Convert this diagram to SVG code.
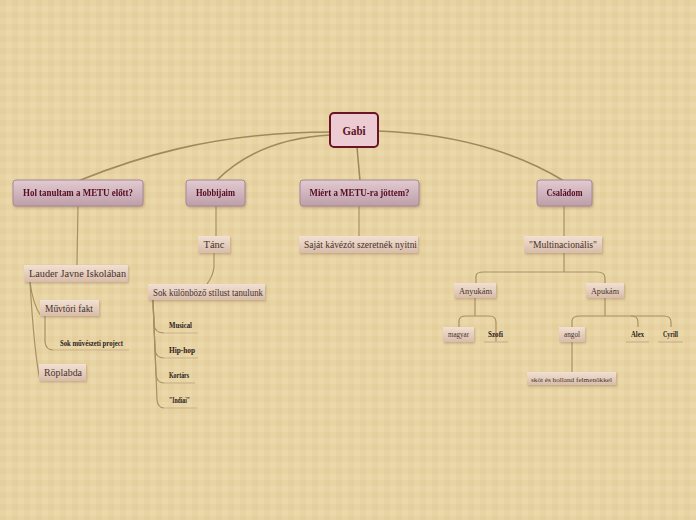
<svg xmlns="http://www.w3.org/2000/svg" width="696" height="520" viewBox="0 0 696 520">
<defs>
<pattern id="plaid" width="12" height="12" patternUnits="userSpaceOnUse">
<rect width="12" height="12" fill="#ebd8aa"/>
<rect x="0" y="0" width="6" height="12" fill="#d6bb85" opacity="0.18"/>
<rect x="0" y="0" width="12" height="6" fill="#d6bb85" opacity="0.18"/>
</pattern>
<linearGradient id="gMain" x1="0" y1="0" x2="0" y2="1">
<stop offset="0" stop-color="#e2cbd1"/>
<stop offset="1" stop-color="#bd9ea9"/>
</linearGradient>
<linearGradient id="gSub" x1="0" y1="0" x2="0" y2="1">
<stop offset="0" stop-color="#f2e0d2"/>
<stop offset="1" stop-color="#d9bca9"/>
</linearGradient>
<filter id="sh" x="-10%" y="-20%" width="130%" height="160%">
<feDropShadow dx="1" dy="1.5" stdDeviation="0.8" flood-color="#7a6040" flood-opacity="0.35"/>
</filter>
</defs>
<style>
.main rect{fill:url(#gMain);stroke:#a88893;stroke-width:1}
.main text{font-family:"Liberation Serif","DejaVu Serif",serif;font-weight:bold;font-size:9.5px;fill:#560c1f;text-anchor:middle}
.sub rect{fill:url(#gSub);stroke:none}
.sub text{font-family:"Liberation Serif","DejaVu Serif",serif;font-size:10px;fill:#45332f;text-anchor:middle}
.sub .ul,.leaf .ul{stroke:#c9b389;stroke-width:1.2;fill:none}
.leaf text{font-family:"Liberation Serif","DejaVu Serif",serif;font-weight:bold;font-size:8px;fill:#2a211d;text-anchor:middle}
.sm text{font-size:8px}
#connectors path{fill:none;stroke:#a89164;stroke-width:1.2}
#connectors .thick{stroke-width:1.6;stroke:#9f8a5c}
</style>
<rect width="696" height="520" fill="url(#plaid)"/>
<g id="connectors">
<path class="thick" d="M331,132 C210,132 130,160 78,181"/>
<path class="thick" d="M331,135 C270,138 235,162 216,181"/>
<path class="thick" d="M357,147 L360,181"/>
<path class="thick" d="M378,131 C470,134 530,160 564,181"/>
<path d="M78,206 L77,265"/>
<path d="M216,206 L216,236"/>
<path d="M359,206 L359,236"/>
<path d="M564,206 L564,236"/>
<path d="M214,253 L214,267 Q213,276 207,284"/>
<path d="M30,282 Q33,305 41,316"/>
<path d="M30,282 Q34,350 40,381"/>
<path d="M45,316 L45,342 Q46,350 53,350"/>
<path d="M153,300 L154,325 Q155,333 164,333"/>
<path d="M153,300 L155,350 Q156,358 164,358"/>
<path d="M153,300 L156,375 Q157,383 164,383"/>
<path d="M153,300 L157,400 Q158,408 164,408"/>
<path d="M564,253 L564,272"/>
<path d="M476,285 L476,276 Q476,272 484,272 L597,272 Q605,272 605,278 L605,285"/>
<path d="M475,298 L475,316"/>
<path d="M459,327 L459,321 Q459,316 466,316 L489,316 Q496,316 496,322 L496,342"/>
<path d="M605,298 L605,316"/>
<path d="M572,327 L572,321 Q572,316 580,316 L664,316 Q671,316 671,322 L671,327"/>
<path d="M631,316 Q638,316 638,322 L638,327"/>
<path d="M572,342 L572,372"/>
</g>
<g id="n-gabi">
<rect x="330" y="113" width="48" height="34" rx="4" fill="#eccbd3" stroke="#6a1428" stroke-width="2"/>
<text x="354" y="134.5" font-family="Liberation Serif, DejaVu Serif, serif" font-weight="bold" font-size="12" fill="#5a0f22" text-anchor="middle" textLength="23" lengthAdjust="spacingAndGlyphs">Gabi</text>
</g>
<g id="n-hol" class="main" filter="url(#sh)">
<rect x="13" y="180" width="130" height="26" rx="3"/>
<text x="78" y="196" textLength="110" lengthAdjust="spacingAndGlyphs">Hol tanultam a METU előtt?</text>
</g>
<g id="n-hobbi" class="main" filter="url(#sh)">
<rect x="186" y="180" width="59" height="26" rx="3"/>
<text x="215.5" y="196" textLength="39" lengthAdjust="spacingAndGlyphs">Hobbijaim</text>
</g>
<g id="n-miert" class="main" filter="url(#sh)">
<rect x="300" y="180" width="119" height="26" rx="3"/>
<text x="359.5" y="196" textLength="100" lengthAdjust="spacingAndGlyphs">Miért a METU-ra jöttem?</text>
</g>
<g id="n-csalad" class="main" filter="url(#sh)">
<rect x="537" y="180" width="55" height="26" rx="3"/>
<text x="564.5" y="196" textLength="36" lengthAdjust="spacingAndGlyphs">Családom</text>
</g>
<g id="n-tanc" class="sub">
<rect x="198" y="236" width="32" height="17" filter="url(#sh)"/>
<text x="214" y="248" textLength="21" lengthAdjust="spacingAndGlyphs">Tánc</text>
</g>
<g id="n-kavezo" class="sub">
<rect x="299" y="236" width="119" height="17" filter="url(#sh)"/>
<text x="360.5" y="248" textLength="113" lengthAdjust="spacingAndGlyphs">Saját kávézót szeretnék nyitni</text>
</g>
<g id="n-multi" class="sub">
<rect x="524" y="236" width="78" height="17" filter="url(#sh)"/>
<text x="563" y="248" textLength="68" lengthAdjust="spacingAndGlyphs">"Multinacionális"</text>
</g>
<g id="n-lauder" class="sub">
<rect x="24" y="265" width="104" height="17" filter="url(#sh)"/>
<text x="77.5" y="277" textLength="97" lengthAdjust="spacingAndGlyphs">Lauder Javne Iskolában</text>
</g>
<g id="n-muvtori" class="sub">
<rect x="40" y="300" width="59" height="16" filter="url(#sh)"/>
<text x="69" y="311.5" textLength="48" lengthAdjust="spacingAndGlyphs">Művtöri fakt</text>
</g>
<g id="n-project" class="leaf">
<text x="91.5" y="345.5" textLength="63" lengthAdjust="spacingAndGlyphs">Sok művészeti project</text>
<path class="ul" d="M53,350 L129,350"/>
</g>
<g id="n-roplabda" class="sub">
<rect x="39" y="364" width="47" height="17" filter="url(#sh)"/>
<text x="63" y="376" textLength="38" lengthAdjust="spacingAndGlyphs">Röplabda</text>
</g>
<g id="n-stilus" class="sub">
<rect x="148" y="284" width="117" height="16" filter="url(#sh)"/>
<text x="208" y="295.5" textLength="110" lengthAdjust="spacingAndGlyphs">Sok különböző stílust tanulunk</text>
</g>
<g id="n-musical" class="leaf">
<text x="180.5" y="327.5" textLength="23" lengthAdjust="spacingAndGlyphs">Musical</text>
<path class="ul" d="M164,333 L198,333"/>
</g>
<g id="n-hiphop" class="leaf">
<text x="182" y="352.5" textLength="26" lengthAdjust="spacingAndGlyphs">Hip-hop</text>
<path class="ul" d="M164,358 L198,358"/>
</g>
<g id="n-kortars" class="leaf">
<text x="179" y="377.5" textLength="20" lengthAdjust="spacingAndGlyphs">Kortárs</text>
<path class="ul" d="M164,383 L195,383"/>
</g>
<g id="n-indiai" class="leaf">
<text x="179.5" y="402.5" textLength="21" lengthAdjust="spacingAndGlyphs">"Indiai"</text>
<path class="ul" d="M164,408 L197,408"/>
</g>
<g id="n-anyu" class="sub sm">
<rect x="454" y="283" width="42" height="15" filter="url(#sh)"/>
<text x="475.5" y="293.5" textLength="33" lengthAdjust="spacingAndGlyphs">Anyukám</text>
</g>
<g id="n-apu" class="sub sm">
<rect x="586" y="283" width="38" height="15" filter="url(#sh)"/>
<text x="605" y="293.5" textLength="28" lengthAdjust="spacingAndGlyphs">Apukám</text>
</g>
<g id="n-magyar" class="sub sm">
<rect x="443" y="327" width="31" height="15" filter="url(#sh)"/>
<text x="458.5" y="337" textLength="21" lengthAdjust="spacingAndGlyphs">magyar</text>
</g>
<g id="n-szofi" class="leaf">
<text x="495.5" y="336.5" textLength="15" lengthAdjust="spacingAndGlyphs">Szofi</text>
<path class="ul" d="M484,342 L508,342"/>
</g>
<g id="n-angol" class="sub sm">
<rect x="559" y="327" width="26" height="15" filter="url(#sh)"/>
<text x="572" y="337" textLength="16" lengthAdjust="spacingAndGlyphs">angol</text>
</g>
<g id="n-alex" class="leaf">
<text x="637.5" y="336.5" textLength="13" lengthAdjust="spacingAndGlyphs">Alex</text>
<path class="ul" d="M626,342 L649,342"/>
</g>
<g id="n-cyrill" class="leaf">
<text x="670.5" y="336.5" textLength="15" lengthAdjust="spacingAndGlyphs">Cyrill</text>
<path class="ul" d="M658,342 L683,342"/>
</g>
<g id="n-skot" class="sub sm">
<rect x="527" y="372" width="89" height="13" filter="url(#sh)"/>
<text x="571.5" y="381.5" font-size="7" style="font-size:7px" textLength="81" lengthAdjust="spacingAndGlyphs">skót és holland felmenőkkel</text>
</g>
</svg>
